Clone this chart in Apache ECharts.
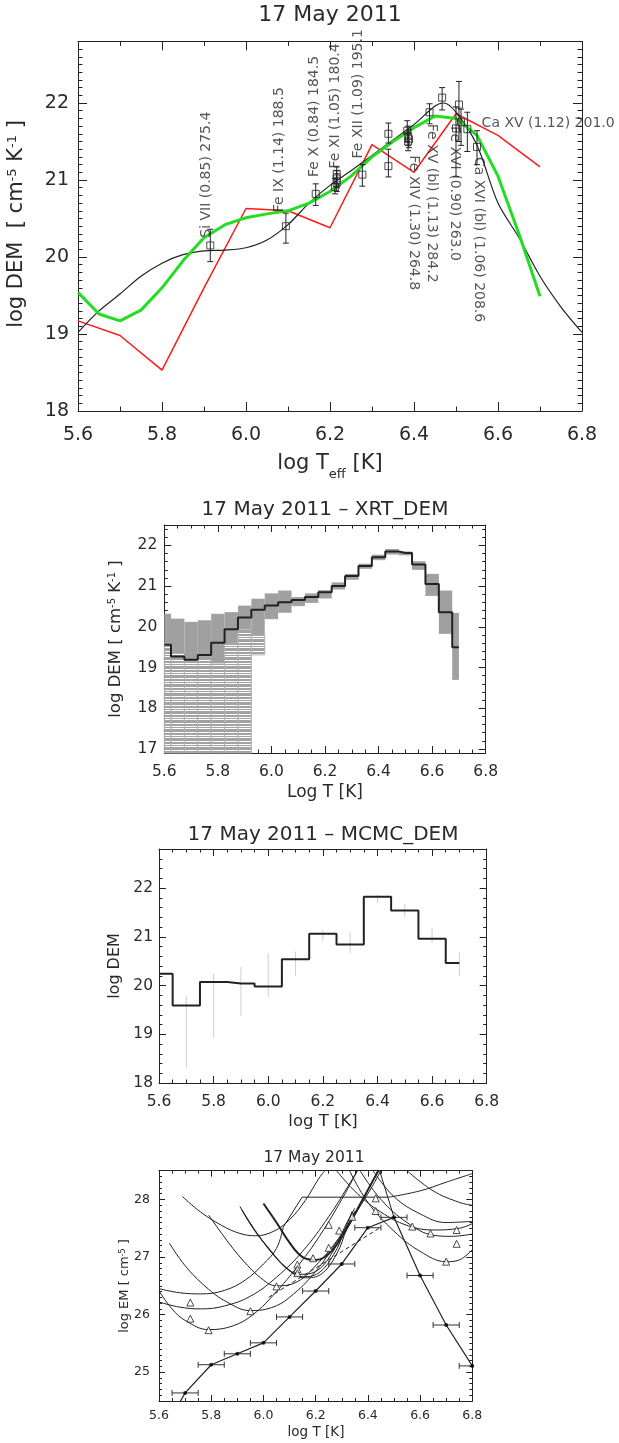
<!DOCTYPE html>
<html><head><meta charset="utf-8">
<script src="https://cdn.jsdelivr.net/npm/echarts@6/dist/echarts.min.js"></script>
<style>html,body{margin:0;padding:0;background:#fff}#c{width:619px;height:1443px}</style>
</head><body><div id="c"></div>
<script>
// ---------------- DATA ----------------
// Panel 1 : EIS DEM curves
const p1BlackT   = [5.60,5.65,5.70,5.75,5.80,5.85,5.90,5.95,6.00,6.05,6.10,6.15,6.20,6.25,6.30,6.35,6.40,6.45,6.47,6.50,6.55,6.60,6.65,6.70,6.75,6.80];
const p1BlackDEM = [19.02,19.30,19.52,19.75,19.92,20.03,20.08,20.09,20.12,20.22,20.42,20.70,20.93,21.12,21.32,21.52,21.72,21.96,22.00,21.88,21.45,20.70,20.25,19.75,19.35,19.02];
const p1GreenT   = [5.60,5.65,5.70,5.75,5.80,5.85,5.90,5.95,6.00,6.05,6.10,6.15,6.20,6.25,6.30,6.35,6.40,6.45,6.50,6.55,6.60,6.65,6.70];
const p1GreenDEM = [19.54,19.26,19.17,19.31,19.60,19.95,20.25,20.42,20.51,20.56,20.60,20.70,20.85,21.05,21.30,21.50,21.68,21.83,21.80,21.58,21.05,20.30,19.49];
const p1RedT     = [5.6,5.7,5.8,5.9,6.0,6.1,6.2,6.3,6.4,6.5,6.6,6.7];
const p1RedDEM   = [19.17,18.98,18.53,19.60,20.63,20.60,20.38,21.46,21.10,21.86,21.58,21.17];
// observed points: T, value, lower, upper
const p1ObsT  = [5.915,6.095,6.166,6.216,6.216,6.216,6.212,6.277,6.339,6.339,6.384,6.386,6.388,6.386,6.437,6.467,6.507,6.500,6.512,6.527,6.550];
const p1ObsV  = [20.15,20.40,20.82,21.08,21.02,20.96,20.91,21.07,21.60,21.18,21.64,21.57,21.53,21.50,21.88,22.07,21.98,21.67,21.75,21.66,21.43];
const p1ObsLo = [19.94,20.18,20.67,20.95,20.90,20.85,20.82,20.92,21.48,21.04,21.50,21.45,21.42,21.38,21.73,21.91,21.50,21.04,21.45,21.37,21.20];
const p1ObsHi = [20.36,20.57,20.95,21.17,21.12,21.08,21.02,21.20,21.74,21.40,21.77,21.70,21.65,21.60,21.99,22.20,22.28,21.95,21.92,21.88,21.64];
// line labels
const p1UpLabels   = ['Si VII (0.85) 275.4','Fe IX (1.14) 188.5','Fe X (0.84) 184.5','Fe XI (1.05) 180.4','Fe XII (1.09) 195.1'];
const p1UpLabelT   = [5.905,6.079,6.163,6.212,6.267];
const p1UpLabelV   = [20.25,20.58,21.04,21.15,21.28];
const p1DownLabels = ['Fe XIV (1.30) 264.8','Fe XV (bl) (1.13) 284.2','Fe XVI (0.90) 263.0','Ca XVI (bl) (1.06) 208.6'];
const p1DownLabelT = [6.398,6.442,6.496,6.553];
const p1DownLabelV = [21.32,21.73,21.70,21.30];
const p1FlatLabels = ['Ca XV (1.12) 201.0'];
const p1FlatLabelT = [6.561];
const p1FlatLabelV = [21.73];

// Panel 2 : XRT_DEM
const p2T     = [5.60,5.65,5.70,5.75,5.80,5.85,5.90,5.95,6.00,6.05,6.10,6.15,6.20,6.25,6.30,6.35,6.40,6.45,6.50,6.55,6.60,6.65,6.70];
const p2DEM   = [19.56,19.27,19.19,19.31,19.61,19.94,20.23,20.42,20.52,20.60,20.66,20.73,20.85,21.00,21.25,21.49,21.71,21.85,21.81,21.53,21.05,20.36,19.50];
const p2MCHi  = [20.32,20.20,20.12,20.16,20.32,20.36,20.52,20.69,20.82,20.89,20.73,20.82,20.90,21.09,21.30,21.55,21.77,21.91,21.85,21.61,21.30,20.89,20.34];
const p2MCMid = [19.60,19.35,19.15,19.27,19.11,19.60,19.94,19.80,20.20,20.36,20.52,20.60,20.71,20.93,21.17,21.44,21.65,21.79,21.77,21.41,20.77,19.84,18.71];
const p2MCLo  = [16.90,16.90,16.90,16.90,16.90,16.90,16.90,19.31,20.20,20.36,20.52,20.60,20.71,20.93,21.17,21.44,21.65,21.79,21.77,21.41,20.77,19.84,18.71];

// Panel 3 : MCMC_DEM
const p3T    = [5.6,5.7,5.8,5.9,6.0,6.1,6.2,6.3,6.4,6.5,6.6,6.7];
const p3DEM  = [20.24,19.59,20.07,20.04,19.98,20.54,21.06,20.84,21.82,21.54,20.96,20.46];
const p3ErrT  = [5.7,5.8,5.9,6.0,6.1,6.2,6.3,6.4,6.5,6.6,6.7];
const p3ErrLo = [18.31,18.93,19.38,19.76,20.20,20.91,20.66,21.69,21.41,20.88,20.19];
const p3ErrHi = [19.79,20.24,20.38,20.66,20.70,21.14,21.10,21.86,21.67,21.17,20.68];

// Panel 4 : EM loci
const p4T    = [5.60,5.70,5.80,5.90,6.00,6.10,6.20,6.30,6.40,6.50,6.60,6.70,6.80];
const p4EM   = [23.85,24.64,25.13,25.32,25.51,25.96,26.41,26.88,27.51,27.69,26.68,25.82,25.11];
const p4PtT  = [5.70,5.80,5.90,6.00,6.10,6.20,6.30,6.40,6.50,6.60,6.70,6.80];
const p4PtEM = [24.64,25.13,25.32,25.51,25.96,26.41,26.88,27.51,27.69,26.68,25.82,25.11];
const p4PtTLo = [5.65,5.75,5.85,5.95,6.05,6.15,6.25,6.35,6.45,6.55,6.65,6.75];
const p4PtTHi = [5.75,5.85,5.95,6.05,6.15,6.25,6.35,6.45,6.55,6.65,6.75,6.85];
const p4TriT  = [5.72,5.72,5.79,5.95,6.05,6.13,6.13,6.13,6.19,6.25,6.25,6.29,6.34,6.43,6.43,6.57,6.64,6.70,6.74,6.74];
const p4TriEM = [26.21,25.93,25.73,26.06,26.49,26.87,26.79,26.72,26.98,27.56,27.16,27.46,27.70,27.80,28.02,27.53,27.41,26.92,27.23,27.47];
const p4Loci = [
  [[5.69,28.05],[5.76,27.78],[5.84,27.55],[5.91,27.41],[5.97,27.37],[6.04,27.45],[6.10,27.65],[6.16,27.98],[6.21,28.35],[6.235,28.5]],
  [[5.60,26.45],[5.68,26.38],[5.76,26.36],[5.85,26.42],[5.93,26.60],[6.00,26.88],[6.05,27.15],[6.076,27.52]],
  [[5.60,26.22],[5.68,26.13],[5.76,26.10],[5.85,26.15],[5.95,26.32],[6.05,26.65],[6.15,27.10],[6.25,27.70],[6.32,28.20],[6.36,28.5]],
  [[5.60,26.41],[5.65,26.10],[5.70,25.90],[5.79,25.74],[5.88,25.80],[5.96,26.00],[6.05,26.40],[6.15,26.95],[6.22,27.40],[6.30,28.00],[6.36,28.5]],
  [[5.64,27.24],[5.70,26.85],[5.78,26.48],[5.86,26.22],[5.95,26.07],[6.03,26.12],[6.10,26.30],[6.20,26.75],[6.30,27.40],[6.38,28.00],[6.44,28.5]],
  [[5.79,27.73],[5.85,27.35],[5.92,26.95],[6.00,26.60],[6.05,26.50],[6.12,26.55],[6.20,26.85],[6.30,27.40],[6.40,28.10],[6.45,28.5]],
  [[5.91,27.88],[5.96,27.50],[6.02,27.15],[6.08,26.85],[6.14,26.70],[6.20,26.75],[6.26,27.05],[6.32,27.60],[6.35,27.85]],
  [[5.915,27.84],[5.97,27.45],[6.03,27.10],[6.09,26.80],[6.15,26.66],[6.21,26.72],[6.27,27.05],[6.31,27.45],[6.34,27.80]],
  [[5.92,27.80],[5.98,27.38],[6.04,27.03],[6.10,26.76],[6.16,26.64],[6.22,26.70],[6.28,27.05],[6.32,27.50],[6.35,27.80]],
  [[6.33,28.5],[6.40,27.95],[6.50,27.45],[6.60,27.10],[6.70,26.92],[6.75,26.95],[6.80,27.13]],
  [[6.37,28.5],[6.45,28.00],[6.55,27.60],[6.65,27.38],[6.72,27.36],[6.80,27.40]],
  [[6.42,28.5],[6.50,28.05],[6.60,27.75],[6.70,27.60],[6.80,27.62]],
  [[6.28,28.5],[6.36,28.10],[6.45,27.78],[6.55,27.55],[6.65,27.47],[6.75,27.50],[6.80,27.58]],
  [[6.55,28.5],[6.65,28.15],[6.75,27.95],[6.80,27.90]],
  [[6.48,28.04],[6.60,28.15],[6.70,28.30],[6.80,28.45]]
];
const p4ThickLocus = [[6.00,27.93],[6.05,27.60],[6.10,27.25],[6.15,27.00],[6.20,26.95],[6.26,27.10],[6.32,27.50],[6.38,28.00],[6.44,28.5]];
const p4Plateau = [[6.076,27.52],[6.148,28.04],[6.48,28.04]];
const p4Steep   = [[6.445,28.5],[6.50,27.69]];
const p4Dashed  = [[6.02,26.30],[6.45,27.52]];

// ticks / labels
const xMajorTicks = [5.6,5.8,6.0,6.2,6.4,6.6,6.8];
const p1YTicks = [18,19,20,21,22];
const p2YTicks = [17,18,19,20,21,22];
const p3YTicks = [18,19,20,21,22];
const p4YTicks = [25,26,27,28];

// ---------------- HELPERS ----------------
const FONT = 'DejaVu Sans';
const INK = '#222';
const TXT = '#2a2a2a';
function zip(a, b) { return a.map((v, i) => [v, b[i]]); }
function isMult(v, d) { const q = v / d; return Math.abs(q - Math.round(q)) < 1e-6; }

const grids = [], xAxes = [], yAxes = [], panelAx = [];
const LS = { color: INK, width: 1 };
function tickAxis(dim, g, pos, lo, hi, interval, len, line) {
  return { type: 'value', gridIndex: g, position: pos, min: lo, max: hi, interval,
    axisLine: { show: line, onZero: false, lineStyle: LS }, splitLine: { show: false },
    axisTick: { show: true, inside: true, length: len, lineStyle: LS }, axisLabel: { show: false } };
}
function addPanel(box, yr, yMaj, xMinStep, yMinStep, st) {
  const xr = [5.6, 6.8];
  const g = grids.length; grids.push(box);
  const xi = xAxes.length, yi = yAxes.length;
  panelAx.push({ xAxisIndex: xi, yAxisIndex: yi });
  // main x axes: labels + major + minor ticks (5.6 is a multiple of both steps)
  xAxes.push({ ...tickAxis('x', g, 'bottom', xr[0], xr[1], 0.2, st.maj, true),
    axisLabel: { show: true, customValues: xMajorTicks, formatter: v => v.toFixed(1), margin: st.xm, fontSize: st.fs, fontFamily: FONT, color: TXT } });
  xAxes.push(tickAxis('x', g, 'top', xr[0], xr[1], 0.2, st.maj, true));
  xAxes.push(tickAxis('x', g, 'bottom', xr[0], xr[1], xMinStep, st.min, false));
  xAxes.push(tickAxis('x', g, 'top', xr[0], xr[1], xMinStep, st.min, false));
  // main y axes: frame + labels, no ticks
  yAxes.push({ type: 'value', gridIndex: g, position: 'left', min: yr[0], max: yr[1],
    axisLine: { show: true, onZero: false, lineStyle: LS }, splitLine: { show: false }, axisTick: { show: false },
    axisLabel: { show: true, customValues: yMaj, formatter: v => String(Math.round(v)), margin: st.ym, fontSize: st.fs, fontFamily: FONT, color: TXT } });
  yAxes.push({ type: 'value', gridIndex: g, position: 'right', min: yr[0], max: yr[1],
    axisLine: { show: true, onZero: false, lineStyle: LS }, splitLine: { show: false }, axisTick: { show: false }, axisLabel: { show: false } });
  // y ticks on an overlay grid whose bottom sits at the first major value
  const pxU = box.height / (yr[1] - yr[0]);
  const y0 = yMaj[0];
  const tg = grids.length;
  grids.push({ left: box.left, width: box.width, top: box.top, height: box.height - (y0 - yr[0]) * pxU });
  xAxes.push({ type: 'value', gridIndex: tg, show: false, min: 0, max: 1 });
  yAxes.push(tickAxis('y', tg, 'left', y0, yr[1], 1, st.maj, false));
  yAxes.push(tickAxis('y', tg, 'right', y0, yr[1], 1, st.maj, false));
  if (isMult(yr[0], yMinStep)) {
    yAxes.push(tickAxis('y', g, 'left', yr[0], yr[1], yMinStep, st.min, false));
    yAxes.push(tickAxis('y', g, 'right', yr[0], yr[1], yMinStep, st.min, false));
  } else {
    yAxes.push(tickAxis('y', tg, 'left', y0, yr[1], yMinStep, st.min, false));
    yAxes.push(tickAxis('y', tg, 'right', y0, yr[1], yMinStep, st.min, false));
  }
}
addPanel({ left: 78, top: 41.4, width: 504, height: 369.6 }, [18, 22.8], p1YTicks, 0.1, 0.1, { fs: 19, maj: 9, min: 4.5, xm: 15, ym: 9 });
addPanel({ left: 164.3, top: 525, width: 321.4, height: 228 }, [16.9, 22.5], p2YTicks, 0.05, 0.2, { fs: 15.5, maj: 7, min: 3.5, xm: 11, ym: 7 });
addPanel({ left: 159, top: 849, width: 327.7, height: 234 }, [18, 22.8], p3YTicks, 0.05, 0.2, { fs: 15.5, maj: 7, min: 3.5, xm: 11, ym: 6 });
addPanel({ left: 159, top: 1170.7, width: 313.3, height: 230.3 }, [24.5, 28.5], p4YTicks, 0.05, 0.1, { fs: 12.5, maj: 6, min: 3, xm: 8, ym: 9 });
const ax = i => panelAx[i];

// error bar renderers
function vErr(color, cap, w) {
  return function (params, api) {
    const x = api.value(0), lo = api.value(1), hi = api.value(2);
    const a = api.coord([x, lo]), b = api.coord([x, hi]);
    const st = { stroke: color, lineWidth: w };
    const ch = [{ type: 'line', shape: { x1: a[0], y1: a[1], x2: b[0], y2: b[1] }, style: st }];
    if (cap) {
      ch.push({ type: 'line', shape: { x1: a[0] - cap, y1: a[1], x2: a[0] + cap, y2: a[1] }, style: st });
      ch.push({ type: 'line', shape: { x1: b[0] - cap, y1: b[1], x2: b[0] + cap, y2: b[1] }, style: st });
    }
    return { type: 'group', children: ch };
  };
}
function hErr(params, api) {
  const y = api.value(1), lo = api.value(2), hi = api.value(3);
  const a = api.coord([lo, y]), b = api.coord([hi, y]);
  const st = { stroke: '#333', lineWidth: 1 };
  return { type: 'group', children: [
    { type: 'line', shape: { x1: a[0], y1: a[1], x2: b[0], y2: b[1] }, style: st },
    { type: 'line', shape: { x1: a[0], y1: a[1] - 3, x2: a[0], y2: a[1] + 3 }, style: st },
    { type: 'line', shape: { x1: b[0], y1: b[1] - 3, x2: b[0], y2: b[1] + 3 }, style: st }
  ]};
}
// stripe pattern for the sparse Monte-Carlo lines
const pat = document.createElement('canvas'); pat.width = 4; pat.height = 9;
(function () { const c = pat.getContext('2d'); c.fillStyle = '#fff'; c.fillRect(0, 0, 4, 9); c.fillStyle = '#a2a2a2';
  [0, 1, 2, 4, 5, 7].forEach(r => c.fillRect(0, r, 4, 1)); })();
function mcBand(params, api) {
  const i = params.dataIndex, n = p2T.length;
  const xc = api.value(0);
  const xl = i === 0 ? xc : (xc + p2T[i - 1]) / 2;
  const xr = i === n - 1 ? xc : (xc + p2T[i + 1]) / 2;
  const hi = api.value(1), mid = api.value(2), lo = api.value(3);
  const p1 = api.coord([xl, hi]), p2 = api.coord([xr, mid]), p3 = api.coord([xr, lo]);
  return { type: 'group', children: [
    { type: 'rect', shape: { x: p1[0], y: p2[1], width: p2[0] - p1[0], height: p3[1] - p2[1] }, style: { fill: { image: pat, repeat: 'repeat' }, stroke: '#b0b0b0', lineWidth: 1 } },
    { type: 'rect', shape: { x: p1[0], y: p1[1], width: p2[0] - p1[0], height: p2[1] - p1[1] }, style: { fill: '#a0a0a0' } }
  ]};
}

const labelBase = { show: true, fontFamily: FONT, fontSize: 14, color: TXT, position: 'inside', align: 'left', verticalAlign: 'middle' };
const series = [
  // ---- panel 1
  { type: 'line', ...ax(0), data: zip(p1RedT, p1RedDEM), showSymbol: false, lineStyle: { color: '#ff1a1a', width: 1.5 }, z: 3 },
  { type: 'line', ...ax(0), data: zip(p1BlackT, p1BlackDEM), smooth: 0.3, showSymbol: false, lineStyle: { color: INK, width: 1.2 }, z: 4 },
  { type: 'line', ...ax(0), data: zip(p1GreenT, p1GreenDEM), showSymbol: false, lineStyle: { color: '#22dd22', width: 3 }, z: 5 },
  { type: 'custom', ...ax(0), data: p1ObsT.map((t, i) => [t, p1ObsLo[i], p1ObsHi[i]]), renderItem: vErr(INK, 3, 1), z: 6 },
  { type: 'scatter', ...ax(0), data: zip(p1ObsT, p1ObsV), symbol: 'rect', symbolSize: 7, itemStyle: { color: 'rgba(255,255,255,0)', borderColor: INK, borderWidth: 1 }, z: 7 },
  { type: 'scatter', ...ax(0), data: p1UpLabels.map((s, i) => [p1UpLabelT[i], p1UpLabelV[i], s]), symbolSize: 0,
    label: { ...labelBase, rotate: 90, formatter: p => p.data[2] }, z: 8 },
  { type: 'scatter', ...ax(0), data: p1DownLabels.map((s, i) => [p1DownLabelT[i], p1DownLabelV[i], s]), symbolSize: 0,
    label: { ...labelBase, rotate: -90, formatter: p => p.data[2] }, z: 8 },
  { type: 'scatter', ...ax(0), data: p1FlatLabels.map((s, i) => [p1FlatLabelT[i], p1FlatLabelV[i], s]), symbolSize: 0,
    label: { ...labelBase, formatter: p => p.data[2] }, z: 8 },
  // ---- panel 2
  { type: 'custom', ...ax(1), data: p2T.map((t, i) => [t, p2MCHi[i], p2MCMid[i], p2MCLo[i]]), renderItem: mcBand, z: 2 },
  { type: 'line', ...ax(1), data: zip(p2T, p2DEM), step: 'middle', showSymbol: false, lineStyle: { color: INK, width: 2 }, z: 4 },
  // ---- panel 3
  { type: 'custom', ...ax(2), data: p3ErrT.map((t, i) => [t, p3ErrLo[i], p3ErrHi[i]]), renderItem: vErr('#cfcfcf', 0, 1), z: 2 },
  { type: 'line', ...ax(2), data: zip(p3T, p3DEM), step: 'middle', showSymbol: false, lineStyle: { color: INK, width: 2 }, z: 4 },
  // ---- panel 4
  ...p4Loci.map(c => ({ type: 'line', ...ax(3), data: c, smooth: 0.4, showSymbol: false, lineStyle: { color: INK, width: 1 }, z: 3 })),
  { type: 'line', ...ax(3), data: p4ThickLocus, smooth: 0.4, showSymbol: false, lineStyle: { color: INK, width: 2 }, z: 3 },
  { type: 'line', ...ax(3), data: p4Plateau, showSymbol: false, lineStyle: { color: INK, width: 1 }, z: 3 },
  { type: 'line', ...ax(3), data: p4Steep, showSymbol: false, lineStyle: { color: INK, width: 1 }, z: 3 },
  { type: 'line', ...ax(3), data: p4Dashed, showSymbol: false, lineStyle: { color: INK, width: 1, type: [4, 3] }, z: 3 },
  { type: 'line', ...ax(3), data: zip(p4T, p4EM), showSymbol: false, lineStyle: { color: INK, width: 1.2 }, z: 4 },
  { type: 'custom', ...ax(3), data: p4PtT.map((t, i) => [t, p4PtEM[i], p4PtTLo[i], p4PtTHi[i]]), renderItem: hErr, clip: true, z: 5 },
  { type: 'scatter', ...ax(3), data: zip(p4PtT, p4PtEM), symbol: 'circle', symbolSize: 4, itemStyle: { color: '#000' }, z: 6 },
  { type: 'scatter', ...ax(3), data: zip(p4TriT, p4TriEM), symbol: 'triangle', symbolSize: 7, itemStyle: { color: '#fff', borderColor: INK, borderWidth: 1 }, z: 6 }
];

const txt = (x, y, text, fs, rot, rich) => ({ type: 'text', x, y, rotation: rot || 0,
  style: { text, fontSize: fs, fontFamily: FONT, fill: TXT, align: 'center', verticalAlign: 'middle', rich: rich || {} } });
const sup = fs => ({ s: { fontSize: Math.round(fs * 0.62), fontFamily: FONT, fill: TXT, verticalAlign: 'top', lineHeight: fs },
                     b: { fontSize: Math.round(fs * 0.62), fontFamily: FONT, fill: TXT, verticalAlign: 'bottom', lineHeight: fs * 1.6 } });
const R = Math.PI / 2;
const graphic = [
  txt(330, 15, '17 May 2011', 22),
  txt(17, 224, 'log DEM  [ cm{s|-5} K{s|-1} ]', 21, R, sup(21)),
  txt(330, 464, 'log T{b|eff} [K]', 21, 0, sup(21)),
  txt(325, 510, '17 May 2011 \u2013 XRT_DEM', 20),
  txt(116, 639, 'log DEM [ cm{s|-5} K{s|-1} ]', 16.5, R, sup(16.5)),
  txt(325, 793, 'Log T [K]', 17),
  txt(323, 835, '17 May 2011 \u2013 MCMC_DEM', 20),
  txt(115, 966, 'log DEM', 16, R),
  txt(323, 1122, 'log T [K]', 16.5),
  txt(314, 1158, '17 May 2011', 15.5),
  txt(125, 1286, 'log EM [ cm{s|-5} ]', 13, R, sup(13)),
  txt(316, 1432, 'log T [K]', 13.5)
];

const chart = echarts.init(document.getElementById('c'));
chart.setOption({ animation: false, backgroundColor: '#fff', grid: grids, xAxis: xAxes, yAxis: yAxes, series, graphic });
</script></body></html>
